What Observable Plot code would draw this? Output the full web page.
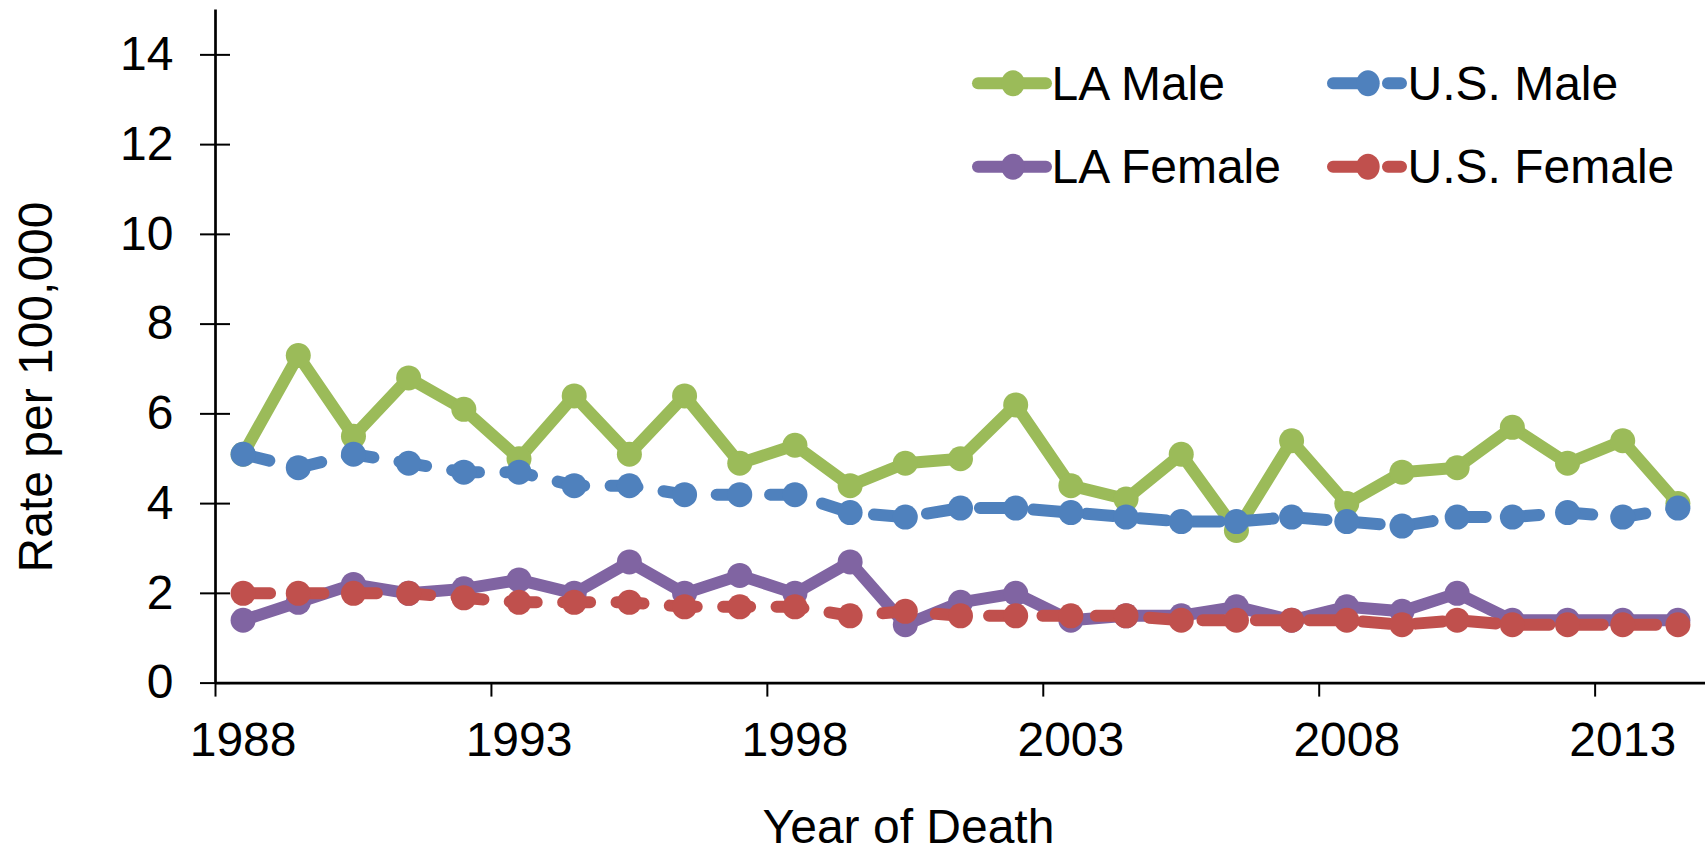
<!DOCTYPE html>
<html>
<head>
<meta charset="utf-8">
<script src="https://cdn.jsdelivr.net/npm/d3@7"></script>
<script src="https://cdn.jsdelivr.net/npm/@observablehq/plot@0.6"></script>
<style>
  html, body { margin: 0; padding: 0; background: #ffffff; }
  #chart { width: 1707px; height: 852px; overflow: hidden; }
</style>
</head>
<body>
<div id="chart"></div>
<script>
const years = [1988,1989,1990,1991,1992,1993,1994,1995,1996,1997,1998,1999,2000,2001,2002,2003,2004,2005,2006,2007,2008,2009,2010,2011,2012,2013,2014];
const laMale   = [5.1,7.3,5.5,6.8,6.1,5.0,6.4,5.1,6.4,4.9,5.3,4.4,4.9,5.0,6.2,4.4,4.1,5.1,3.4,5.4,4.0,4.7,4.8,5.7,4.9,5.4,4.0];
const usMale   = [5.1,4.8,5.1,4.9,4.7,4.7,4.4,4.4,4.2,4.2,4.2,3.8,3.7,3.9,3.9,3.8,3.7,3.6,3.6,3.7,3.6,3.5,3.7,3.7,3.8,3.7,3.9];
const laFemale = [1.4,1.8,2.2,2.0,2.1,2.3,2.0,2.7,2.0,2.4,2.0,2.7,1.3,1.8,2.0,1.4,1.5,1.5,1.7,1.4,1.7,1.6,2.0,1.4,1.4,1.4,1.4];
const usFemale = [2.0,2.0,2.0,2.0,1.9,1.8,1.8,1.8,1.7,1.7,1.7,1.5,1.6,1.5,1.5,1.5,1.5,1.4,1.4,1.4,1.4,1.3,1.4,1.3,1.3,1.3,1.3];

const seriesNames  = ["LA Male", "U.S. Male", "LA Female", "U.S. Female"];
const seriesValues = [laMale, usMale, laFemale, usFemale];
const seriesColors = ["#9BBB59", "#4F81BD", "#8064A2", "#C0504D"];
const seriesDashed = [false, true, false, true];

const yTicks = [0, 2, 4, 6, 8, 10, 12, 14];
const xLabelYears = [1988, 1993, 1998, 2003, 2008, 2013];
const xTickBounds = [1987.5, 1992.5, 1997.5, 2002.5, 2007.5, 2012.5];
const yTitle = "Rate per 100,000";
const xTitle = "Year of Death";

const FONT = "'Liberation Sans', Arial, Helvetica, sans-serif";
const FS = 48;
const LINE_W = 12;
const DASH = "27,26.4";
const DOT_R = 12.5;

const marks = [];
seriesValues.forEach((vals, i) => {
  const data = years.map((yr, j) => ({year: yr, value: vals[j]}));
  marks.push(Plot.line(data, {
    x: "year", y: "value",
    stroke: seriesColors[i], strokeWidth: LINE_W,
    strokeLinecap: "round", strokeLinejoin: "round",
    strokeDasharray: seriesDashed[i] ? DASH : null
  }));
  marks.push(Plot.dot(data, {x: "year", y: "value", r: DOT_R, fill: seriesColors[i]}));
});

const chart = Plot.plot({
  width: 1707,
  height: 852,
  marginLeft: 215,
  marginRight: 2,
  marginTop: 9.5,
  marginBottom: 169.4,
  style: {fontFamily: FONT, background: "#ffffff", color: "#000000", overflow: "visible"},
  x: {type: "linear", domain: [years[0] - 0.5, years[years.length - 1] + 0.5]},
  y: {domain: [0, 15]},
  marks: [
    Plot.axisY(yTicks, {anchor: "left", tickSize: 15, tickFormat: () => "", label: null, strokeWidth: 2}),
    Plot.axisY(yTicks, {anchor: "left", tickSize: 15, dx: 15, tickFormat: () => "", label: null, strokeWidth: 2}),
    Plot.axisY(yTicks, {anchor: "left", tickSize: 0, tickPadding: 42, fontSize: FS, label: null}),
    Plot.axisX(xTickBounds, {anchor: "bottom", tickSize: 14, tickFormat: () => "", label: null, strokeWidth: 2}),
    Plot.text(xLabelYears, {x: d => d, text: d => String(d), frameAnchor: "bottom", dy: 57.5, fontSize: FS, lineAnchor: "middle"}),
    Plot.ruleY([0], {stroke: "#000", strokeWidth: 2.7}),
    Plot.ruleX([years[0] - 0.5], {stroke: "#000", strokeWidth: 2.7}),
    Plot.text([xTitle], {frameAnchor: "bottom", dx: -52, dy: 145, fontSize: FS, lineAnchor: "middle"}),
    ...marks
  ]
});

document.getElementById("chart").appendChild(chart);

const svg = d3.select(chart);

// y-axis title (rotated)
svg.append("text")
  .attr("transform", "translate(52.2,387) rotate(-90)")
  .attr("text-anchor", "middle")
  .attr("font-family", FONT).attr("font-size", FS)
  .attr("fill", "#000")
  .text(yTitle);

// Legend (inside plot area, top right)
const lg = svg.append("g").attr("class", "legend");
const legendItems = [
  {i: 0, lx: 978, mx: 1013, tx: 1051.5, cy: 83.3, by: 100},
  {i: 1, lx: 1333, mx: 1368, tx: 1407.5, cy: 83.3, by: 100},
  {i: 2, lx: 978, mx: 1013, tx: 1051.5, cy: 166.7, by: 182.5},
  {i: 3, lx: 1333, mx: 1368, tx: 1407.5, cy: 166.7, by: 182.5}
];
legendItems.forEach(it => {
  const c = seriesColors[it.i];
  lg.append("line")
    .attr("x1", it.lx).attr("x2", it.lx + 68)
    .attr("y1", it.cy).attr("y2", it.cy)
    .attr("stroke", c).attr("stroke-width", LINE_W)
    .attr("stroke-linecap", "round")
    .attr("stroke-dasharray", seriesDashed[it.i] ? "40,15" : null);
  lg.append("ellipse")
    .attr("cx", it.mx).attr("cy", it.cy)
    .attr("rx", 11.7).attr("ry", 13)
    .attr("fill", c);
  lg.append("text")
    .attr("x", it.tx).attr("y", it.by)
    .attr("text-anchor", "start")
    .attr("font-family", FONT).attr("font-size", FS)
    .attr("fill", "#000")
    .text(seriesNames[it.i]);
});
</script>
</body>
</html>
